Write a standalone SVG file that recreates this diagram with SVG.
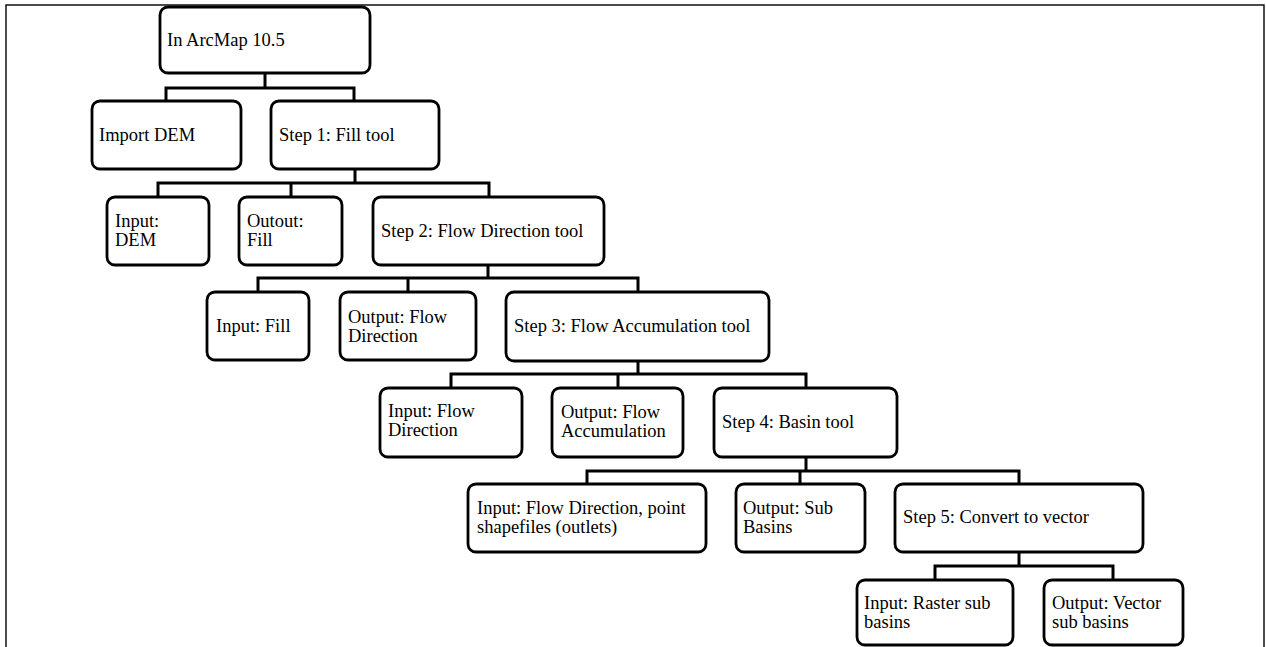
<svg xmlns="http://www.w3.org/2000/svg" width="1266" height="647" viewBox="0 0 1266 647">
<style>
.box{fill:#fff;stroke:#000;stroke-width:2.8}
.t{font-family:"Liberation Serif","Times New Roman",serif;font-size:18.5px;fill:#000}
.c{fill:none;stroke:#000;stroke-width:3;stroke-linejoin:miter}
.frame{fill:none;stroke:#000;stroke-width:1.4}
</style>
<rect width="1266" height="647" fill="#fff"/>
<rect class="frame" x="6" y="5" width="1258" height="670"/>
<g id="connectors">
<path class="c" d="M265 73V88M166 101V88H354V101"/>
<path class="c" d="M355 169V183M158 197V183H489V197M291 183V197"/>
<path class="c" d="M488 265V278M258 292V278H638V292M408 278V292"/>
<path class="c" d="M638 361V374M451 388V374H806V388M618 374V388"/>
<path class="c" d="M806 457V471M587 484V471H1019V484M800 471V484"/>
<path class="c" d="M1019 552V566M935 580V566H1113V580"/>
</g>
<g id="root"><rect class="box" x="160" y="7" width="210" height="66" rx="8"/><text class="t" x="167" y="46">In ArcMap 10.5</text></g>
<g id="import-dem"><rect class="box" x="92" y="101" width="149" height="68" rx="8"/><text class="t" x="99" y="141">Import DEM</text></g>
<g id="step1"><rect class="box" x="271" y="101" width="168" height="68" rx="8"/><text class="t" x="279" y="141">Step 1: Fill tool</text></g>
<g id="input-dem"><rect class="box" x="107" y="197" width="102" height="68" rx="8"/><text class="t" x="115" y="227">Input:</text><text class="t" x="115" y="246">DEM</text></g>
<g id="outout-fill"><rect class="box" x="239" y="197" width="103" height="68" rx="8"/><text class="t" x="247" y="227">Outout:</text><text class="t" x="247" y="246">Fill</text></g>
<g id="step2"><rect class="box" x="373" y="197" width="231" height="68" rx="8"/><text class="t" x="381" y="237">Step 2: Flow Direction tool</text></g>
<g id="input-fill"><rect class="box" x="207" y="292" width="102" height="68" rx="8"/><text class="t" x="216" y="332">Input: Fill</text></g>
<g id="output-flowdir"><rect class="box" x="340" y="292" width="136" height="68" rx="8"/><text class="t" x="348" y="323">Output: Flow</text><text class="t" x="348" y="342">Direction</text></g>
<g id="step3"><rect class="box" x="506" y="292" width="263" height="69" rx="8"/><text class="t" x="514" y="332">Step 3: Flow Accumulation tool</text></g>
<g id="input-flowdir"><rect class="box" x="380" y="388" width="142" height="69" rx="8"/><text class="t" x="388" y="417">Input: Flow</text><text class="t" x="388" y="436">Direction</text></g>
<g id="output-flowacc"><rect class="box" x="552" y="388" width="131" height="69" rx="8"/><text class="t" x="561" y="418">Output: Flow</text><text class="t" x="561" y="437">Accumulation</text></g>
<g id="step4"><rect class="box" x="714" y="388" width="183" height="69" rx="8"/><text class="t" x="722" y="428">Step 4: Basin tool</text></g>
<g id="input-outlets"><rect class="box" x="468" y="484" width="238" height="68" rx="8"/><text class="t" x="477" y="514">Input: Flow Direction, point</text><text class="t" x="477" y="533">shapefiles (outlets)</text></g>
<g id="output-subbasins"><rect class="box" x="736" y="484" width="129" height="68" rx="8"/><text class="t" x="743" y="514">Output: Sub</text><text class="t" x="743" y="533">Basins</text></g>
<g id="step5"><rect class="box" x="895" y="484" width="248" height="68" rx="8"/><text class="t" x="903" y="523">Step 5: Convert to vector</text></g>
<g id="input-raster"><rect class="box" x="857" y="580" width="156" height="65" rx="8"/><text class="t" x="864" y="609">Input: Raster sub</text><text class="t" x="864" y="628">basins</text></g>
<g id="output-vector"><rect class="box" x="1044" y="580" width="139" height="65" rx="8"/><text class="t" x="1052" y="609">Output: Vector</text><text class="t" x="1052" y="628">sub basins</text></g>
</svg>
